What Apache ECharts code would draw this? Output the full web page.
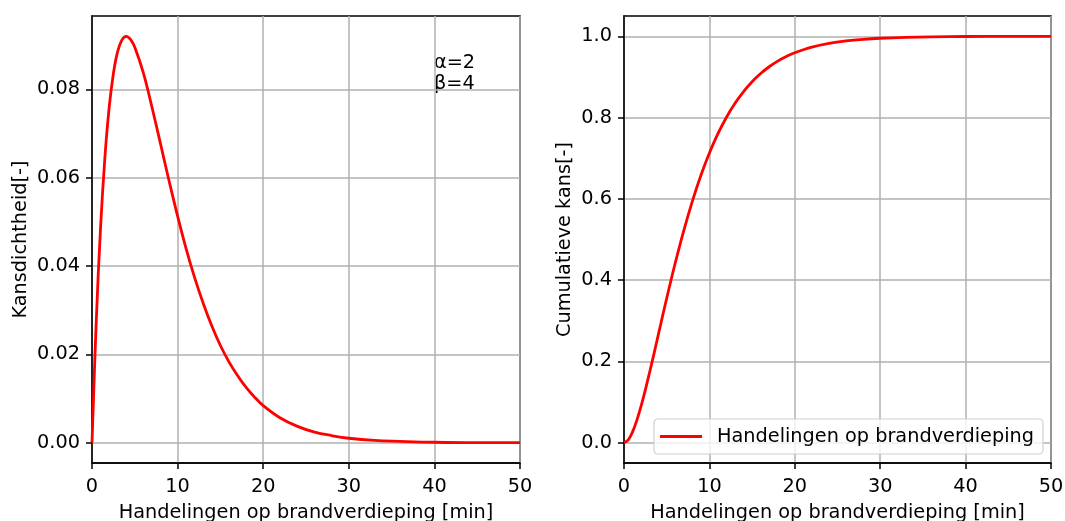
<!DOCTYPE html>
<html>
<head>
<meta charset="utf-8">
<script src="https://cdn.jsdelivr.net/npm/echarts@6/dist/echarts.min.js"></script>
<style>
  html, body { margin: 0; padding: 0; background: #fff; }
  #chart { width: 1065px; height: 521px; }
</style>
</head>
<body>
<div id="chart"></div>
<script>
const tijd = [0, 0.5, 1, 1.5, 2, 2.5, 3, 3.5, 4, 4.5, 5, 6, 7, 8, 9, 10, 11, 12, 13, 14, 15,
  16, 17, 18, 19, 20, 22, 24, 26, 28, 30, 33, 36, 40, 45, 50];
// kansdichtheid (links)
const dichtheid = [0, 0.0276, 0.0487, 0.0644, 0.0758, 0.0836, 0.0886, 0.0912, 0.0920, 0.0913, 0.0895,
  0.0837, 0.0760, 0.0677, 0.0593, 0.0513, 0.0439, 0.0373, 0.0315, 0.0264, 0.0220,
  0.0183, 0.0152, 0.0125, 0.0103, 0.0084, 0.0056, 0.0037, 0.0024, 0.0016, 0.0010,
  0.0005, 0.0003, 0.0001, 0.0000, 0.0000];
// cumulatieve kans (rechts)
const cumulatief = [0, 0.0072, 0.0265, 0.0550, 0.0902, 0.1301, 0.1733, 0.2180, 0.2642, 0.3101, 0.3554,
  0.4422, 0.5221, 0.5940, 0.6575, 0.7127, 0.7603, 0.8009, 0.8351, 0.8641, 0.8883,
  0.9084, 0.9251, 0.9389, 0.9503, 0.9596, 0.9734, 0.9826, 0.9887, 0.9927, 0.9953,
  0.9976, 0.9988, 0.9995, 0.9999, 1.0000];
const xTicks = [0, 10, 20, 30, 40, 50];
const yTicksLinks = [0, 0.02, 0.04, 0.06, 0.08];
const yTicksRechts = [0, 0.2, 0.4, 0.6, 0.8, 1.0];

const font = 'DejaVu Sans';
const zip = (xs, ys) => xs.map((x, i) => [x, ys[i]]);

function xAs(gridIndex) {
  return {
    type: 'value', gridIndex: gridIndex, min: 0, max: 50,
    name: 'Handelingen op brandverdieping [min]', nameLocation: 'middle', nameGap: 40,
    nameTextStyle: { fontFamily: font, fontSize: 19.3, color: '#000' },
    axisLine: { show: true, onZero: false, lineStyle: { color: '#000', width: 1.5 } },
    axisTick: { show: true, length: 6, inside: false, customValues: xTicks, lineStyle: { color: '#000', width: 1.5 } },
    axisLabel: { customValues: xTicks, margin: 14, fontFamily: font, fontSize: 19.3, color: '#000' },
    splitLine: { show: true, lineStyle: { color: '#b0b0b0', width: 1.5 } }
  };
}

function yAs(gridIndex, naam, min, max, ticks, dec, gap) {
  return {
    type: 'value', gridIndex: gridIndex, min: min, max: max,
    name: naam, nameLocation: 'middle', nameGap: gap,
    nameTextStyle: { fontFamily: font, fontSize: 19.3, color: '#000' },
    axisLine: { show: true, onZero: false, lineStyle: { color: '#000', width: 1.5 } },
    axisTick: { show: true, length: 6, customValues: ticks, lineStyle: { color: '#000', width: 1.5 } },
    axisLabel: { customValues: ticks, margin: 12, fontFamily: font, fontSize: 19.3, color: '#000',
      formatter: v => v.toFixed(dec) },
    splitLine: { show: true, lineStyle: { color: '#b0b0b0', width: 1.5 } }
  };
}

const chart = echarts.init(document.getElementById('chart'));
chart.setOption({
  animation: false,
  grid: [
    { left: 92, top: 16, width: 428, height: 447, outerBoundsMode: 'none', containLabel: false,
      show: true, borderColor: '#000', borderWidth: 1.5, backgroundColor: 'transparent' },
    { left: 624, top: 16, width: 427, height: 447, outerBoundsMode: 'none', containLabel: false,
      show: true, borderColor: '#000', borderWidth: 1.5, backgroundColor: 'transparent' }
  ],
  xAxis: [xAs(0), xAs(1)],
  yAxis: [
    yAs(0, 'Kansdichtheid[-]', -0.0046, 0.0966, yTicksLinks, 2, 62),
    yAs(1, 'Cumulatieve kans[-]', -0.05, 1.05, yTicksRechts, 1, 50)
  ],
  legend: {
    show: true, data: ['Handelingen op brandverdieping'],
    left: 654, top: 419, orient: 'horizontal',
    padding: [8, 9, 8, 6], itemWidth: 42, itemHeight: 3, icon: 'rect',
    borderColor: '#d0d0d0', borderWidth: 1.2, borderRadius: 4, backgroundColor: 'rgba(255,255,255,0.8)',
    textStyle: { fontFamily: font, fontSize: 19.3, color: '#000', padding: [0, 0, 0, 10] }
  },
  graphic: [
    { type: 'text', left: 434, top: 52, style: { text: 'α=2\nβ=4', fontFamily: font, fontSize: 19.3, lineHeight: 21, fill: '#000' } }
  ],
  series: [
    { name: 'dichtheid', type: 'line', xAxisIndex: 0, yAxisIndex: 0, data: zip(tijd, dichtheid),
      showSymbol: false, symbol: 'none', smooth: 0.4,
      lineStyle: { color: '#ff0000', width: 2.8 }, itemStyle: { color: '#ff0000' } },
    { name: 'Handelingen op brandverdieping', type: 'line', xAxisIndex: 1, yAxisIndex: 1, data: zip(tijd, cumulatief),
      showSymbol: false, symbol: 'none', smooth: 0.4,
      lineStyle: { color: '#ff0000', width: 2.8 }, itemStyle: { color: '#ff0000' } }
  ]
});
</script>
</body>
</html>
